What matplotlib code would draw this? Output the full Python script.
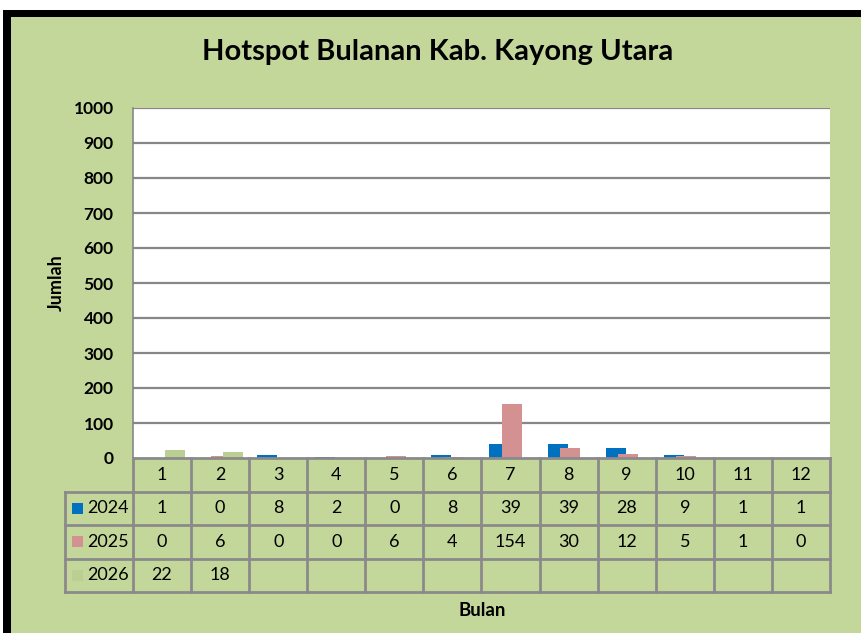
import numpy as np
import matplotlib
matplotlib.use("Agg")
import matplotlib.pyplot as plt
from matplotlib.patches import Rectangle

plt.rcParams['font.family'] = ['Lato', 'DejaVu Sans']

# monthly hotspot counts
months = [1, 2, 3, 4, 5, 6, 7, 8, 9, 10, 11, 12]
years = ["2024", "2025", "2026"]
hs_2024 = [1, 0, 8, 2, 0, 8, 39, 39, 28, 9, 1, 1]
hs_2025 = [0, 6, 0, 0, 6, 4, 154, 30, 12, 5, 1, 0]
hs_2026 = [22, 18]
y_ticks = list(range(0, 1001, 100))

bg = "#c4d79b"
colors = ["#0070c0", "#d49191", "#bccf92"]
grid_c = "#878787"

W, H = 862, 633
fig = plt.figure(figsize=(W / 100, H / 100), dpi=100)
fig.patch.set_facecolor("white")

def fx(px):
    return px / W

def fy(py):
    return 1 - py / H

# chart frame: green background with a black border
frame = fig.add_axes([0, 0, 1, 1])
frame.set_xlim(0, W)
frame.set_ylim(H, 0)
frame.axis("off")
frame.add_patch(Rectangle((3, 10), W, H, facecolor=bg, edgecolor="none"))
frame.add_patch(Rectangle((3, 10), 8, H, facecolor="black", edgecolor="none"))
frame.add_patch(Rectangle((3, 10), W, 7, facecolor="black", edgecolor="none"))

# plot area
L, R, T, B = 133, 830, 108, 458
ax = fig.add_axes([fx(L), fy(B), fx(R - L), (B - T) / H])
ax.set_facecolor("white")
ax.set_xlim(0, 12)
ax.set_ylim(0, 1000)
ax.set_yticks(y_ticks)
ax.set_yticklabels([str(v) for v in y_ticks], fontsize=12.5, fontweight="bold")
ax.tick_params(axis="y", length=0, pad=14)
ax.set_xticks([])
for v in y_ticks[1:]:
    ax.axhline(v, color=grid_c, lw=1.6, zorder=0)
for s in ["top", "right"]:
    ax.spines[s].set_visible(False)
ax.spines["left"].set_color(grid_c)
ax.spines["left"].set_linewidth(1.2)
ax.spines["bottom"].set_visible(False)
ax.set_ylabel("Jumlah", fontsize=13, fontweight="bold", labelpad=6)

x = np.arange(12) + 0.5
bw = 0.345
offs = [-0.19, 0.02, 0.225]
series = [hs_2024, hs_2025, hs_2026]
for i, (vals, c) in enumerate(zip(series, colors)):
    ax.bar(x[:len(vals)] + offs[i], vals, width=bw, color=c, zorder=2 + i)

# data table below the plot
tL = 65
tB = 592
tab = fig.add_axes([fx(tL), fy(tB), fx(R - tL), (tB - B) / H])
tab.axis("off")
lw_units = (L - tL) / ((R - L) / 12)
tab.set_xlim(-lw_units, 12)
tab.set_ylim(4, 0)
tc = "#8a8a8a"
tlw = 2.0
tab.plot([0, 12], [0, 0], color=tc, lw=tlw, clip_on=False)
for r in range(1, 5):
    tab.plot([-lw_units, 12], [r, r], color=tc, lw=tlw, clip_on=False)
tab.plot([-lw_units, -lw_units], [1, 4], color=tc, lw=tlw, clip_on=False)
for cidx in range(13):
    tab.plot([cidx, cidx], [0, 4], color=tc, lw=tlw, clip_on=False)

for j, m in enumerate(months):
    tab.text(j + 0.5, 0.5, str(m), ha="center", va="center", fontsize=13)
for r, (yr, vals, c) in enumerate(zip(years, series, colors)):
    row = r + 1.5
    sq = 11 / ((R - L) / 12)
    tab.add_patch(Rectangle((-lw_units + 7 / 58, row - 0.17), sq, 0.33,
                            facecolor=c, edgecolor="none"))
    tab.text(-0.07, row, yr, ha="right", va="center", fontsize=13)
    for j, v in enumerate(vals):
        tab.text(j + 0.5, row, str(v), ha="center", va="center", fontsize=13)

fig.text(fx(438), fy(52), "Hotspot Bulanan Kab. Kayong Utara", ha="center",
         va="center", fontsize=21, fontweight="bold")
fig.text(fx(482), fy(610), "Bulan", ha="center", va="center",
         fontsize=13.5, fontweight="bold")

fig.savefig("out.png", dpi=100, facecolor=fig.get_facecolor())
